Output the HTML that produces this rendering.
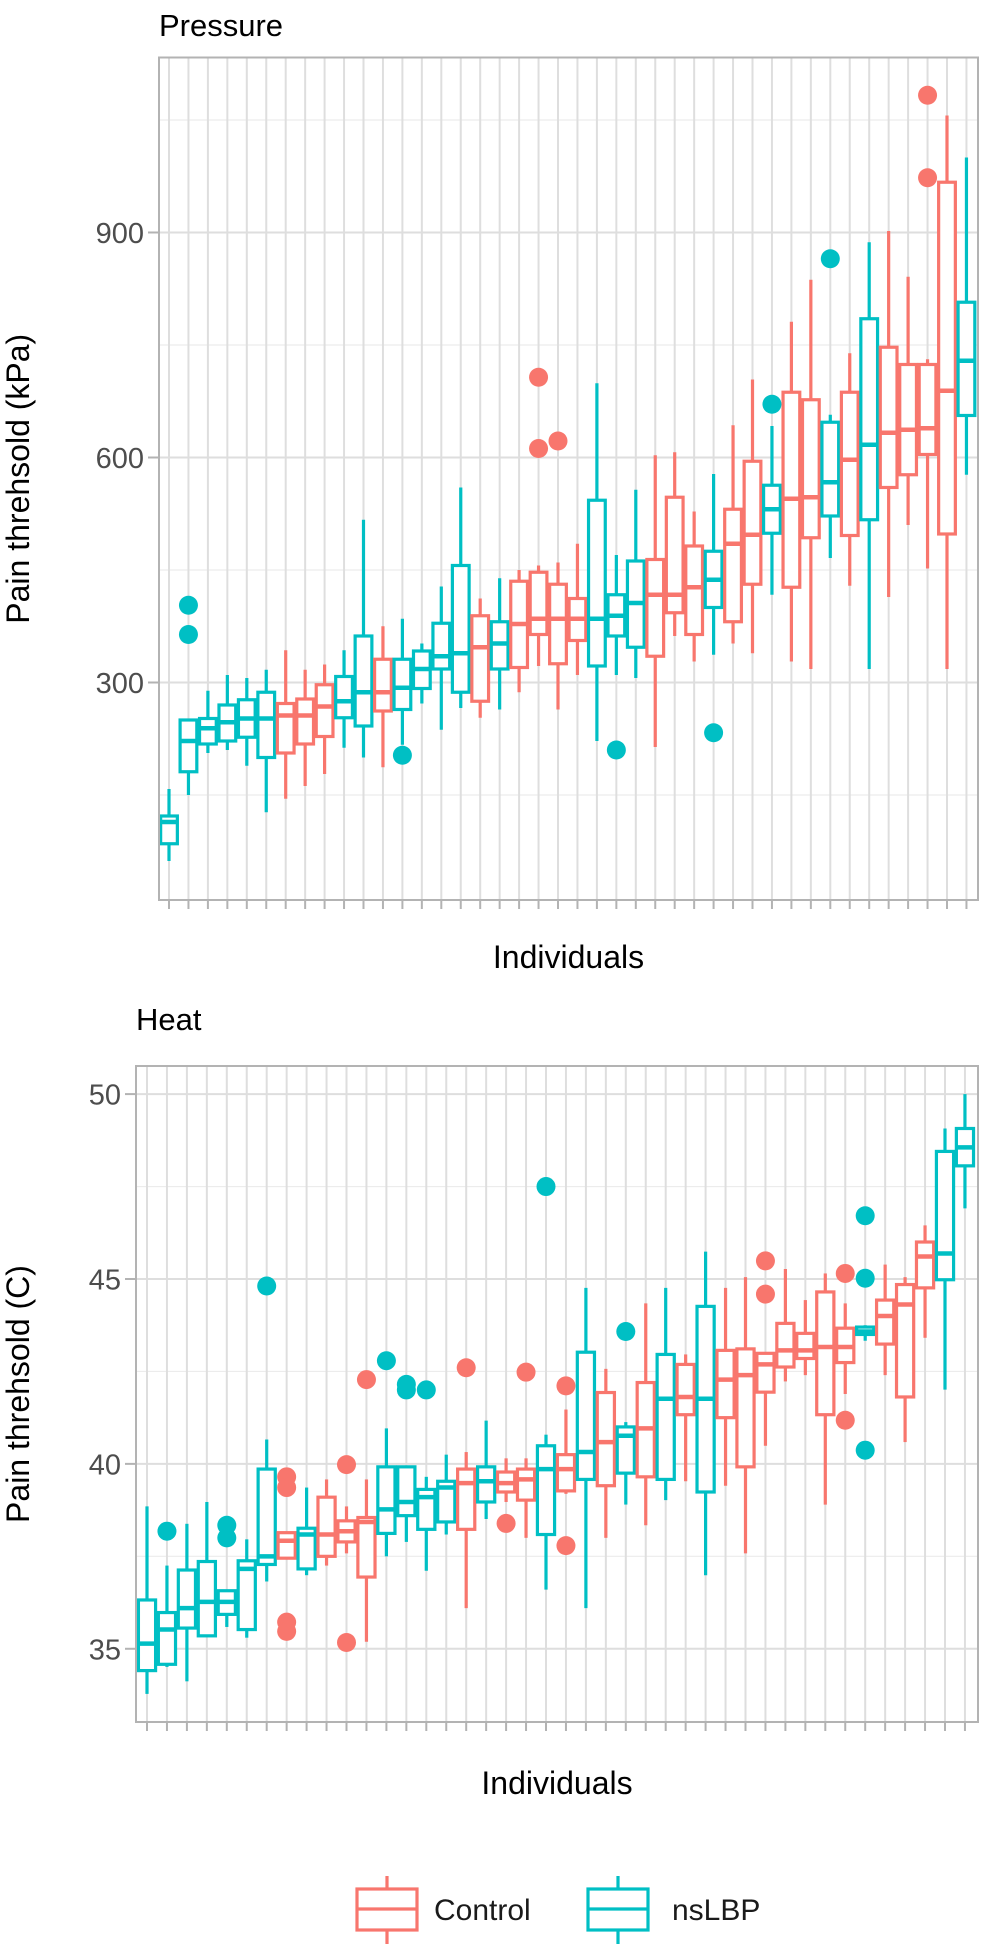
<!DOCTYPE html>
<html><head><meta charset="utf-8"><style>
body{margin:0;background:#fff;}
svg{display:block;font-family:"Liberation Sans",Arial,sans-serif;}
</style></head><body>
<svg id="chart" width="981" height="1944" viewBox="0 0 981 1944" xmlns="http://www.w3.org/2000/svg">
<g id="top"></g>
<g id="bot"></g>
<g id="legend">
  <g>
    <line x1="387" y1="1876" x2="387" y2="1944" stroke="#F8766D" stroke-width="3.2"/>
    <rect x="357" y="1889" width="60" height="41" fill="#fff" stroke="#F8766D" stroke-width="3.2"/>
    <line x1="357" y1="1909" x2="417" y2="1909" stroke="#F8766D" stroke-width="3.2"/>
    <text x="434" y="1920" font-size="30" fill="#1a1a1a">Control</text>
  </g>
  <g>
    <line x1="618" y1="1876" x2="618" y2="1944" stroke="#00BFC4" stroke-width="3.2"/>
    <rect x="588" y="1889" width="60" height="41" fill="#fff" stroke="#00BFC4" stroke-width="3.2"/>
    <line x1="588" y1="1909" x2="648" y2="1909" stroke="#00BFC4" stroke-width="3.2"/>
    <text x="672" y="1920" font-size="30" fill="#1a1a1a">nsLBP</text>
  </g>
</g>
</svg>
<script>
// ---- Pressure panel data (kPa) ----
const pGroup = ["n","n","n","n","n","n","c","c","c","n","n","c","n","n","n","n","c","n","c","c","c","c","n","n","n","c","c","c","n","c","c","n","c","c","n","c","n","c","c","c","c","n"];
const pLow = [62,150,206,210,189,127,145,162,178,213,200,187,217,272,237,266,253,264,287,322,264,310,222,310,306,214,362,328,337,352,339,417,328,318,466,429,318,414,510,452,318,577];
const pQ1  = [85,181,218,222,227,200,206,218,228,253,242,262,264,292,318,287,275,318,320,364,325,356,322,362,347,335,393,364,400,381,431,499,427,493,522,496,517,560,577,604,498,656];
const pMed = [114,222,239,247,252,252,256,256,268,275,287,287,293,318,335,339,347,352,378,385,385,385,385,389,406,417,417,427,437,485,497,531,545,547,567,597,617,633,637,639,689,729];
const pQ3  = [122,250,252,270,277,287,272,278,297,308,362,331,331,342,379,456,389,381,435,447,431,412,543,417,462,464,547,482,475,531,595,563,687,677,647,687,785,747,724,724,967,807];
const pHigh= [158,250,289,310,306,317,343,317,324,343,517,375,385,352,428,560,412,439,450,456,460,485,699,470,557,603,607,528,578,643,704,642,781,837,657,739,887,902,841,731,1056,1000];
const pOutIdx = [1,1,12,19,19,20,23,28,31,34,39,39];
const pOutVal = [403,364,203,707,612,622,210,233,671,865,1083,973];
const pTicks = [300,600,900];
const pMinor = [150,450,750,1050];

// ---- Heat panel data (C) ----
const hGroup = ["n","n","n","n","n","n","n","c","n","c","c","c","n","n","n","n","c","n","c","c","n","c","n","c","n","c","n","c","n","c","c","c","c","c","c","c","n","c","c","c","n","n"];
const hLow = [33.78,34.51,34.12,35.35,35.59,35.30,36.82,37.45,36.99,37.25,37.58,35.19,37.50,37.89,37.11,38.09,36.10,38.51,38.97,38.00,36.60,39.19,36.10,38.00,38.90,38.34,39.02,39.53,36.99,39.41,37.58,40.49,42.23,42.40,38.90,41.89,43.33,42.40,40.59,43.41,42.01,46.91];
const hQ1  = [34.41,34.58,35.56,35.35,35.93,35.52,37.28,37.45,37.16,37.50,37.89,36.94,38.12,38.60,38.23,38.43,38.23,38.97,39.24,39.02,38.09,39.27,39.58,39.41,39.75,39.65,39.58,41.33,39.24,41.25,39.92,41.94,42.62,42.85,41.33,42.74,43.50,43.24,41.81,44.76,44.98,48.06];
const hMed = [35.14,35.52,36.10,36.27,36.27,37.16,37.50,37.92,38.09,38.09,38.18,38.43,38.77,38.97,39.10,39.36,39.48,39.53,39.48,39.58,39.86,39.86,40.32,40.59,40.76,40.96,41.76,41.81,41.76,42.28,42.40,42.69,43.07,43.07,43.16,43.16,43.58,44.00,44.31,45.61,45.69,48.56];
const hQ3  = [36.32,35.98,37.13,37.36,36.57,37.38,39.86,38.14,38.26,39.10,38.46,38.55,39.92,39.92,39.31,39.53,39.86,39.92,39.78,39.86,40.49,40.25,43.02,41.93,41.00,42.20,42.96,42.69,44.26,43.07,43.11,42.99,43.80,43.53,44.65,43.67,43.70,44.43,44.85,46.00,48.45,49.07];
const hHigh= [38.85,37.25,38.38,38.97,36.57,37.96,40.66,38.14,39.36,39.58,38.85,39.58,40.96,39.95,39.65,40.25,40.32,41.17,40.15,40.15,40.79,41.47,44.76,42.57,41.13,44.34,44.76,42.96,45.74,44.76,45.05,42.99,45.27,44.43,45.15,44.34,43.75,45.39,45.05,46.45,49.07,50.00];
const hOutIdx = [1,4,4,6,7,7,7,7,10,10,11,12,13,13,14,16,18,19,20,21,21,24,31,31,35,35,36,36,36];
const hOutVal = [38.18,38.34,38.00,44.81,39.65,39.36,35.72,35.47,39.98,35.17,42.28,42.79,42.15,42.00,42.00,42.60,38.39,42.48,47.50,42.11,37.79,43.58,45.49,44.59,45.15,41.18,46.71,45.02,40.37];
const hTicks = [35,40,45,50];
const hMinor = [37.5,42.5,47.5];

const COL = {c:"#F8766D", n:"#00BFC4"};
const NS = "http://www.w3.org/2000/svg";
function mk(parent, tag, attrs){
  const e = document.createElementNS(NS, tag);
  for (const k in attrs) e.setAttribute(k, attrs[k]);
  parent.appendChild(e);
  return e;
}

function drawPanel(g, cfg){
  const {L,R,T,B,vMin,vMax,x0,dx,n} = cfg;
  const y = v => B - (v - vMin) / (vMax - vMin) * (B - T);
  const x = i => x0 + i * dx;
  const title = mk(g, "text", {x:L, y:cfg.titleY, "font-size":31, fill:"#000"});
  title.textContent = cfg.title;
  
  
  mk(g, "rect", {x:L, y:T, width:R-L, height:B-T, fill:"#fff"});
  cfg.minor.forEach(v => {
    const l = mk(g, "line", {x1:L, x2:R, y1:y(v), y2:y(v), stroke:"#ececec", "stroke-width":1.2});
    
    
  });
  cfg.ticks.forEach(v => {
    const l = mk(g, "line", {x1:L, x2:R, y1:y(v), y2:y(v), stroke:"#dedede", "stroke-width":2});
    
    
  });
  for (let i = 0; i < n; i++) {
    const l = mk(g, "line", {x1:x(i), x2:x(i), y1:T, y2:B, stroke:"#dedede", "stroke-width":2});
    
    
    const t = mk(g, "line", {x1:x(i), x2:x(i), y1:B, y2:B+9, stroke:"#b3b3b3", "stroke-width":2});
    
    
  }
  cfg.ticks.forEach(v => {
    const t = mk(g, "line", {x1:L-11, x2:L, y1:y(v), y2:y(v), stroke:"#b3b3b3", "stroke-width":2});
    
    
    const lb = mk(g, "text", {x:L-15, y:y(v)+10.5, "font-size":29, fill:"#4d4d4d", "text-anchor":"end"});
    lb.textContent = v;
    
    
  });
  const bw = dx * 0.86;
  for (let i = 0; i < n; i++) {
    const c = COL[cfg.group[i]];
    const bx = mk(g, "g", {stroke:c, "stroke-width":3.2, fill:"#fff"});
    
    
    mk(bx, "line", {x1:x(i), x2:x(i), y1:y(cfg.high[i]), y2:y(cfg.q3[i])});
    mk(bx, "line", {x1:x(i), x2:x(i), y1:y(cfg.q1[i]), y2:y(cfg.low[i])});
    mk(bx, "rect", {x:x(i)-bw/2, y:y(cfg.q3[i]), width:bw, height:Math.max(0.5, y(cfg.q1[i]) - y(cfg.q3[i]))});
    mk(bx, "line", {x1:x(i)-bw/2, x2:x(i)+bw/2, y1:y(cfg.med[i]), y2:y(cfg.med[i]), "stroke-width":4.5});
  }
  cfg.outIdx.forEach((idx, k) => {
    const p = mk(g, "circle", {cx:x(idx), cy:y(cfg.outVal[k]), r:9.5, fill:COL[cfg.group[idx]]});
    
    
  });
  const border = mk(g, "rect", {x:L, y:T, width:R-L, height:B-T, fill:"none", stroke:"#b3b3b3", "stroke-width":2});
  
  
  const yt = mk(g, "text", {x:0, y:0, "font-size":32, fill:"#000", "text-anchor":"middle",
    transform:`translate(${cfg.yTitleX},${(T+B)/2}) rotate(-90)`});
  yt.textContent = cfg.yTitle;
  
  
  const xt = mk(g, "text", {x:(L+R)/2, y:cfg.xTitleY, "font-size":32, fill:"#000", "text-anchor":"middle"});
  xt.textContent = "Individuals";
  
  
}

drawPanel(document.getElementById("top"), {
  L:159, R:978, T:57.5, B:900, vMin:10, vMax:1133.3, x0:169, dx:19.45, n:42,
  title:"Pressure", titleY:36, yTitle:"Pain threhsold (kPa)", yTitleX:29, xTitleY:968,
  group:pGroup, low:pLow, q1:pQ1, med:pMed, q3:pQ3, high:pHigh, outIdx:pOutIdx, outVal:pOutVal,
  ticks:pTicks, minor:pMinor
});
drawPanel(document.getElementById("bot"), {
  L:136, R:978, T:1066, B:1722, vMin:33.02, vMax:50.76, x0:147, dx:19.95, n:42,
  title:"Heat", titleY:1030, yTitle:"Pain threhsold (C)", yTitleX:29, xTitleY:1794,
  group:hGroup, low:hLow, q1:hQ1, med:hMed, q3:hQ3, high:hHigh, outIdx:hOutIdx, outVal:hOutVal,
  ticks:hTicks, minor:hMinor
});
</script>
</body></html>
